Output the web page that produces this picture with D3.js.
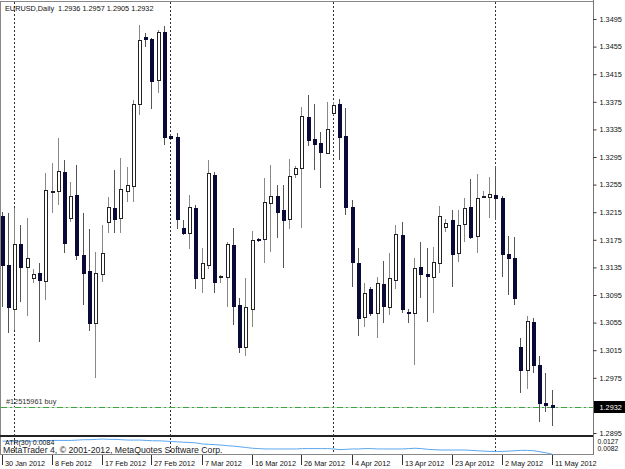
<!DOCTYPE html>
<html>
<head>
<meta charset="utf-8">
<title>EURUSD Daily</title>
<script src="https://cdn.jsdelivr.net/npm/d3@7"></script>
<style>
body { margin:0; background:#fff; }
svg text { font-family: 'Liberation Sans', Arial, sans-serif; }
</style>
</head>
<body>
<svg width="625" height="469"></svg>
<script>
// daily bars (broker has Sunday bars)
var dates = ["2012-01-30","2012-01-31",
 "2012-02-01","2012-02-02","2012-02-03","2012-02-05","2012-02-06","2012-02-07","2012-02-08","2012-02-09","2012-02-10",
 "2012-02-12","2012-02-13","2012-02-14","2012-02-15","2012-02-16","2012-02-17","2012-02-19","2012-02-20","2012-02-21",
 "2012-02-22","2012-02-23","2012-02-24","2012-02-26","2012-02-27","2012-02-28","2012-02-29",
 "2012-03-01","2012-03-02","2012-03-04","2012-03-05","2012-03-06","2012-03-07","2012-03-08","2012-03-09","2012-03-11",
 "2012-03-12","2012-03-13","2012-03-14","2012-03-15","2012-03-16","2012-03-18","2012-03-19","2012-03-20","2012-03-21",
 "2012-03-22","2012-03-23","2012-03-25","2012-03-26","2012-03-27","2012-03-28","2012-03-29","2012-03-30",
 "2012-04-01","2012-04-02","2012-04-03","2012-04-04","2012-04-05","2012-04-06","2012-04-08","2012-04-09","2012-04-10",
 "2012-04-11","2012-04-12","2012-04-13","2012-04-15","2012-04-16","2012-04-17","2012-04-18","2012-04-19","2012-04-20",
 "2012-04-22","2012-04-23","2012-04-24","2012-04-25","2012-04-26","2012-04-27","2012-04-29","2012-04-30",
 "2012-05-01","2012-05-02","2012-05-03","2012-05-04","2012-05-06","2012-05-07","2012-05-08","2012-05-09","2012-05-10","2012-05-11"];

var opens = [1.3210,1.3139,1.3075,1.3169,1.3136,1.3119,1.3127,1.3116,1.3245,1.3246,
 1.3273,1.3207,1.3240,1.3153,1.3130,1.3055,1.3126,1.3201,1.3221,1.3207,
 1.3246,1.3253,1.3372,1.3469,1.3466,1.3407,1.3476,1.3325,1.3324,1.3192,
 1.3185,1.3221,1.3120,1.3139,1.3269,1.3121,1.3121,1.3168,1.3081,1.3020,
 1.3075,1.3176,1.3176,1.3229,1.3239,1.3218,1.3205,1.3271,1.3279,1.3353,
 1.3321,1.3315,1.3301,1.3359,1.3372,1.3326,1.3223,1.3142,1.3063,1.3103,
 1.3069,1.3111,1.3078,1.3117,1.3182,1.3071,1.3069,1.3136,1.3126,1.3121,
 1.3142,1.3194,1.3203,1.3156,1.3198,1.3223,1.3181,1.3238,1.3237,1.3240,
 1.3236,1.3155,1.3148,1.3019,1.2987,1.3056,1.2994,1.2939,1.2936];
var highs = [1.3216,1.3214,1.3221,1.3197,1.3207,1.3132,1.3142,1.3272,1.3287,1.3323,
 1.3291,1.3259,1.3284,1.3214,1.3191,1.3158,1.3197,1.3237,1.3276,1.3294,
 1.3281,1.3378,1.3486,1.3475,1.3467,1.3479,1.3485,1.3328,1.3330,1.3204,
 1.3240,1.3226,1.3163,1.3291,1.3273,1.3124,1.3172,1.3192,1.3091,1.3120,
 1.3188,1.3178,1.3265,1.3284,1.3255,1.3255,1.3292,1.3282,1.3368,1.3385,
 1.3372,1.3331,1.3375,1.3375,1.3379,1.3366,1.3233,1.3163,1.3113,1.3107,
 1.3121,1.3145,1.3156,1.3197,1.3201,1.3074,1.3149,1.3172,1.3163,1.3165,
 1.3224,1.3205,1.3218,1.3218,1.3236,1.3263,1.3271,1.3246,1.3266,1.3282,
 1.3239,1.3181,1.3179,1.3033,1.3065,1.3062,1.3006,1.2982,1.2957];
var lows = [1.3077,1.3040,1.3045,1.3085,1.3065,1.3113,1.3027,1.3088,1.3214,1.3226,
 1.3156,1.3201,1.3146,1.3081,1.3043,1.2975,1.3114,1.3185,1.3185,1.3185,
 1.3230,1.3230,1.3356,1.3454,1.3365,1.3388,1.3313,1.3320,1.3190,1.3182,
 1.3161,1.3104,1.3098,1.3132,1.3098,1.3113,1.3078,1.3052,1.3011,1.3006,
 1.3049,1.3172,1.3142,1.3158,1.3178,1.3134,1.3190,1.3265,1.3192,1.3311,
 1.3276,1.3250,1.3299,1.3356,1.3291,1.3211,1.3107,1.3035,1.3049,1.3065,
 1.3033,1.3055,1.3066,1.3103,1.3069,1.3055,1.2994,1.3090,1.3056,1.3069,
 1.3127,1.3187,1.3106,1.3143,1.3172,1.3176,1.3156,1.3236,1.3207,1.3204,
 1.3121,1.3095,1.3081,1.2953,1.2959,1.2982,1.2911,1.2925,1.2905];
var closes = [1.3139,1.3077,1.3169,1.3136,1.3148,1.3126,1.3117,1.3247,1.3246,1.3275,
 1.3171,1.3239,1.3153,1.3127,1.3055,1.3127,1.3156,1.3223,1.3205,1.3249,
 1.3255,1.3372,1.3465,1.3466,1.3405,1.3476,1.3324,1.3323,1.3205,1.3185,
 1.3223,1.3120,1.3142,1.3272,1.3114,1.3122,1.3169,1.3079,1.3020,1.3077,
 1.3174,1.3174,1.3230,1.3239,1.3216,1.3204,1.3268,1.3279,1.3355,1.3320,
 1.3314,1.3302,1.3336,1.3370,1.3324,1.3223,1.3143,1.3062,1.3098,1.3069,
 1.3113,1.3079,1.3119,1.3184,1.3074,1.3069,1.3134,1.3126,1.3123,1.3143,
 1.3210,1.3200,1.3155,1.3197,1.3221,1.3179,1.3236,1.3239,1.3242,1.3236,
 1.3155,1.3149,1.3090,1.2987,1.3058,1.2993,1.2938,1.2936,1.2932];

// ATR(30) sub window
var atr = [0.0121,0.0121,0.0121,0.0121,0.0121,0.0121,0.0122,0.0122,0.0123,0.0123,
 0.0123,0.0123,0.0124,0.0125,0.0125,0.0126,0.0127,0.0126,0.0126,0.0125,
 0.0124,0.0124,0.0124,0.0123,0.0122,0.0122,0.0121,0.0120,0.0119,0.0118,
 0.0117,0.0116,0.0113,0.0112,0.0111,0.0110,0.0108,0.0107,0.0105,0.0103,
 0.0101,0.0100,0.0099,0.0099,0.0099,0.0099,0.0099,0.0099,0.0100,0.0100,
 0.0100,0.0100,0.0100,0.0099,0.0097,0.0098,0.0099,0.0099,0.0100,0.0100,
 0.0099,0.0099,0.0099,0.0099,0.0099,0.0100,0.0101,0.0100,0.0098,0.0097,
 0.0096,0.0096,0.0096,0.0096,0.0096,0.0095,0.0094,0.0093,0.0092,0.0092,
 0.0092,0.0093,0.0094,0.0095,0.0095,0.0094,0.0091,0.0088,0.0084];

var priceTicks = [1.3495,1.3455,1.3415,1.3375,1.3335,1.3295,1.3255,1.3215,1.3175,
 1.3135,1.3095,1.3055,1.3015,1.2975,1.2895];
var dateLabels = ["2012-01-30","2012-02-08","2012-02-17","2012-02-27","2012-03-07","2012-03-16",
 "2012-03-26","2012-04-04","2012-04-13","2012-04-23","2012-05-02","2012-05-11"];
var atrLabels = [0.0127, 0.0082];
var lastPrice = 1.2932;
var orderPrice = 1.2933;
var orderName = "#12515961 buy";
var header = "EURUSD,Daily  1.2936 1.2957 1.2905 1.2932";

var svg = d3.select("svg");
var axisX = 593.5;

var x = d3.scaleLinear().domain([0, dates.length - 1]).range([2.5, 552.5]);
var y = d3.scaleLinear().domain([1.2895, 1.3495]).range([433, 19]);
var ya = d3.scaleLinear().domain([0.0082, 0.0127]).range([455, 439]);
var parse = d3.timeParse("%Y-%m-%d");
var fmtDate = d3.timeFormat("%-d %b %Y");

// frames
svg.append("line").attr("x1", 0).attr("x2", axisX).attr("y1", 1.5).attr("y2", 1.5).attr("stroke", "#888");
svg.append("line").attr("x1", 0.5).attr("x2", 0.5).attr("y1", 1).attr("y2", 455).attr("stroke", "#888");
svg.append("rect").attr("x", 0).attr("y", 435).attr("width", axisX).attr("height", 2).attr("fill", "#222");
svg.append("line").attr("x1", 0).attr("x2", axisX).attr("y1", 454.5).attr("y2", 454.5).attr("stroke", "#888");

// month separators
var seps = [];
dates.forEach(function(d, i) {
  if (i > 0 && d.slice(5, 7) != dates[i - 1].slice(5, 7)) seps.push(i);
});
svg.selectAll(".sep").data(seps).enter().append("line")
  .attr("class", "sep")
  .attr("x1", function(i) { return Math.round(x(i)) - 0.5; })
  .attr("x2", function(i) { return Math.round(x(i)) - 0.5; })
  .attr("y1", 2).attr("y2", 454)
  .attr("stroke", "#333").attr("stroke-dasharray", "2,2");

// bid line + order line
var by = Math.round(y(lastPrice)) + 0.5;
svg.append("line").attr("x1", 1).attr("x2", axisX).attr("y1", by).attr("y2", by).attr("stroke", "#d0d0d0");
var oy = Math.round(y(orderPrice)) + 0.5;
svg.append("line").attr("x1", 1).attr("x2", axisX).attr("y1", oy).attr("y2", oy)
  .attr("stroke", "#3aa83a").attr("stroke-width", 1.2).attr("stroke-dasharray", "6,3,2,3");
svg.append("text").attr("x", 6).attr("y", oy - 3.5)
  .attr("font-size", 7.3).attr("fill", "#333").text(orderName);

// candles
var idx = d3.range(dates.length);
var cg = svg.append("g");
cg.selectAll(".wick").data(idx).enter().append("line")
  .attr("class", "wick")
  .attr("x1", function(i) { return Math.round(x(i)) - 0.5; })
  .attr("x2", function(i) { return Math.round(x(i)) - 0.5; })
  .attr("y1", function(i) { return Math.round(y(highs[i])); })
  .attr("y2", function(i) { return Math.round(y(lows[i])); })
  .attr("stroke", function(i) { return closes[i] >= opens[i] ? "#888" : "#555"; });

cg.selectAll(".body").data(idx).enter().append("rect")
  .attr("class", "body")
  .each(function(i) {
    var t = Math.round(y(Math.max(opens[i], closes[i])));
    var b = Math.round(y(Math.min(opens[i], closes[i])));
    var cx = Math.round(x(i));
    var r = d3.select(this);
    if (closes[i] >= opens[i]) {
      r.attr("x", cx - 1.5).attr("y", t + 0.5).attr("width", 3).attr("height", Math.max(1, b - t))
        .attr("fill", "#fff").attr("stroke", "#222");
    } else {
      r.attr("x", cx - 2).attr("y", t).attr("width", 4).attr("height", Math.max(2, b - t + 1))
        .attr("fill", "#0a0a38");
    }
  });

// price axis
svg.append("line").attr("x1", axisX).attr("x2", axisX).attr("y1", 0).attr("y2", 455).attr("stroke", "#777");
var yAxis = d3.axisRight(y).tickValues(priceTicks).tickSize(3).tickFormat(d3.format(".4f"));
var ga = svg.append("g").attr("transform", "translate(" + axisX + ",0)").call(yAxis);
ga.select(".domain").remove();
ga.selectAll(".tick line").attr("stroke", "#333");
ga.selectAll(".tick text").attr("x", 6).attr("font-size", 7.3).attr("fill", "#111")
  .attr("font-family", "'Liberation Sans', Arial, sans-serif");

// last price box
var ly = Math.round(y(lastPrice));
svg.append("rect").attr("x", axisX + 0.5).attr("y", ly - 6).attr("width", 31).attr("height", 12).attr("fill", "#000");
svg.append("text").attr("x", axisX + 6).attr("y", ly + 3).attr("font-size", 7.3).attr("fill", "#fff")
  .text(d3.format(".4f")(lastPrice));

// ATR line
var line = d3.line().x(function(d, i) { return x(i); }).y(function(d) { return ya(d); });
svg.append("path").datum(atr).attr("d", line).attr("fill", "none").attr("stroke", "#5aa6f0").attr("stroke-width", 1);
svg.append("text").attr("x", 5).attr("y", 445).attr("font-size", 7).attr("fill", "#111").text("ATR(30) " + d3.format(".4f")(atr[atr.length - 1]));
svg.selectAll(".atrl").data(atrLabels).enter().append("text")
  .attr("class", "atrl")
  .attr("x", axisX + 4).attr("y", function(d, i) { return i == 0 ? 443.5 : 451; })
  .attr("font-size", 6.8).attr("fill", "#111")
  .text(function(d) { return d3.format(".4f")(d); });

svg.append("text").attr("x", 3).attr("y", 453).attr("font-size", 8.7).attr("fill", "#222")
  .text("MetaTrader 4, \u00a9 2001-2012, MetaQuotes Software Corp.");

// date axis
var dg = svg.append("g");
dateLabels.forEach(function(s) {
  var i = dates.indexOf(s);
  var px = Math.round(x(i)) - 0.5;
  dg.append("line").attr("x1", px).attr("x2", px).attr("y1", 455).attr("y2", 465).attr("stroke", "#333");
  dg.append("text").attr("x", px + 2.5).attr("y", 466).attr("font-size", 7.3).attr("fill", "#111")
    .text(fmtDate(parse(s)));
});

// header
svg.append("text").attr("x", 5).attr("y", 11).attr("font-size", 7.3).attr("fill", "#111")
  .style("white-space", "pre").text(header);
</script>
</body>
</html>
